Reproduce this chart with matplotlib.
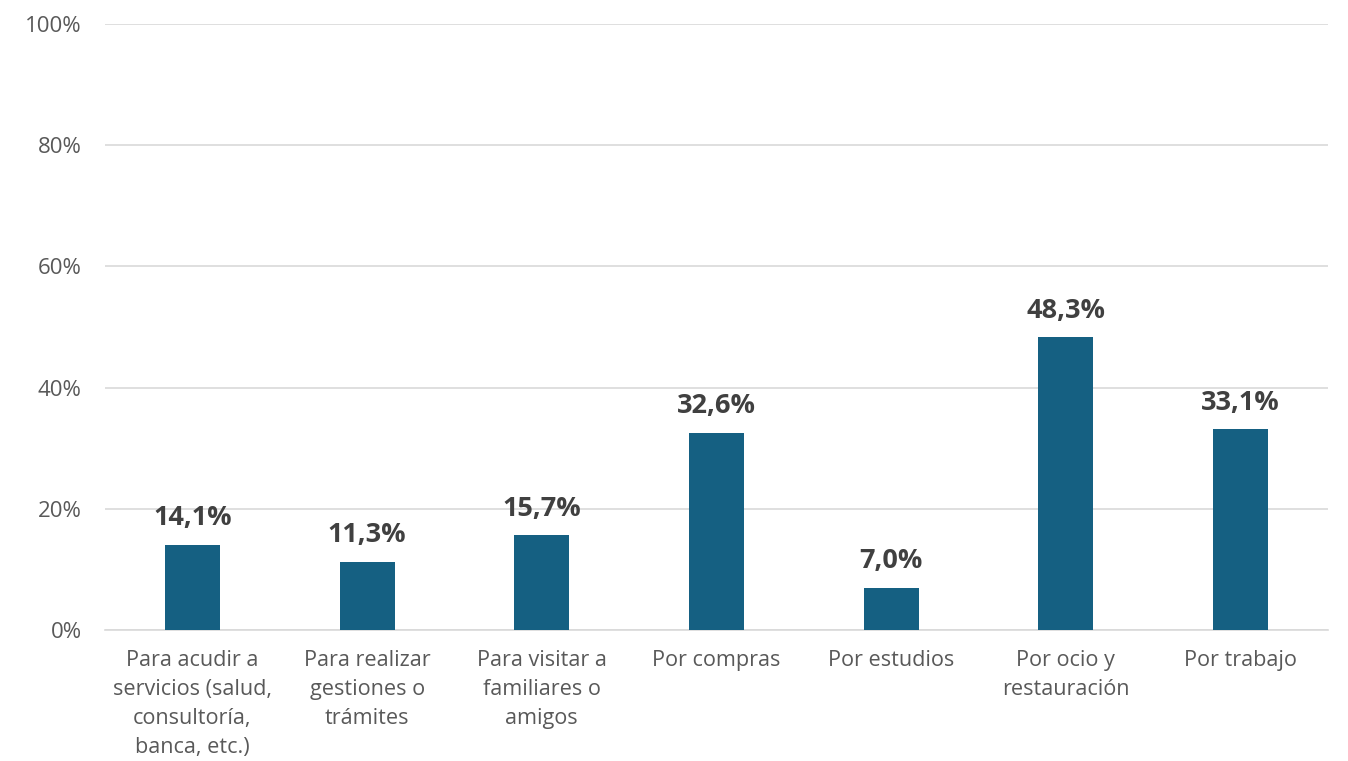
import matplotlib.pyplot as plt
from matplotlib.ticker import FuncFormatter

categorias = [
    "Para acudir a\nservicios (salud,\nconsultoría,\nbanca, etc.)",
    "Para realizar\ngestiones o\ntrámites",
    "Para visitar a\nfamiliares o\namigos",
    "Por compras",
    "Por estudios",
    "Por ocio y\nrestauración",
    "Por trabajo",
]
valores = [14.1, 11.3, 15.7, 32.6, 7.0, 48.3, 33.1]

plt.rcParams['font.family'] = ['Open Sans', 'DejaVu Sans']

fig = plt.figure(figsize=(13.48, 7.61), dpi=100)
ax = fig.add_axes([0.078, 0.172, 0.907, 0.7965])

x = list(range(len(categorias)))
bars = ax.bar(x, valores, width=0.315, color="#156082", zorder=3)

for b, v in zip(bars, valores):
    ax.text(b.get_x() + b.get_width() / 2, v + 2.2, f"{v:.1f}%".replace(".", ","),
            ha="center", va="bottom", fontsize=19.5, fontweight="bold", color="#404040")

ax.set_xlim(-0.5, len(categorias) - 0.5)
ax.set_ylim(0, 100)
ax.set_yticks(range(0, 101, 20))
ax.yaxis.set_major_formatter(FuncFormatter(lambda v, p: f"{int(v)}%"))
ax.set_xticks(x)
ax.set_xticklabels(categorias, fontsize=15.6, color="#595959", linespacing=1.5)
ax.tick_params(axis="y", labelsize=16, labelcolor="#595959", length=0, pad=17)
ax.tick_params(axis="x", length=0, pad=14)
ax.grid(axis="y", color="#D9D9D9", linewidth=1.2, zorder=0)
for s in ["top", "right", "left"]:
    ax.spines[s].set_visible(False)
ax.spines["bottom"].set_color("#D9D9D9")
ax.spines["bottom"].set_linewidth(1.2)

fig.savefig("out.png", dpi=100)
